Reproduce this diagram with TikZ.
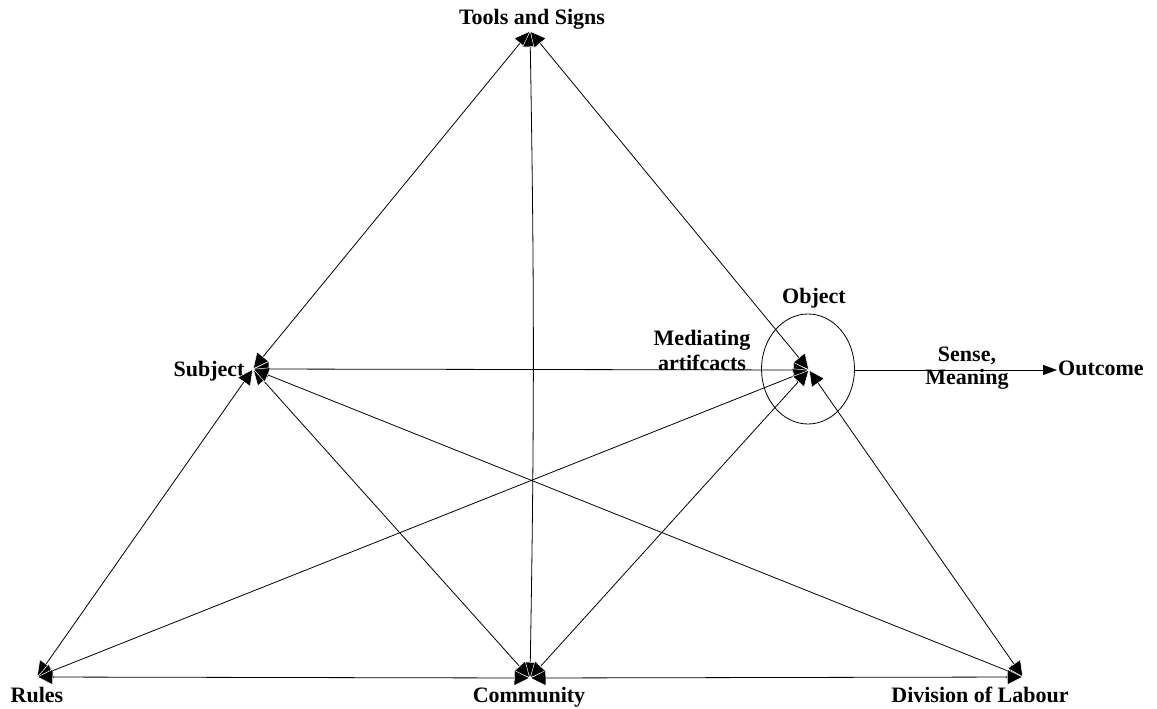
\documentclass[tikz,border=0pt]{standalone}
\usepackage{fontspec}
\setmainfont{Liberation Serif}
\usetikzlibrary{arrows.meta,shapes.geometric}
\begin{document}
\begin{tikzpicture}[x=1pt,y=-1pt,
  lbl/.style={font=\bfseries\fontsize{22}{24.5}\selectfont, inner sep=0pt, anchor=base},
  head/.tip={Triangle[length=16pt,width=16pt,color=white,fill=black,line width=0.5pt]},
  link/.style={line width=0.8pt, head-head},
  oneway/.style={line width=0.8pt, -{Triangle[length=14pt,width=10pt]}}
]
\useasboundingbox (0,0) rectangle (1157,709);

% corners of the activity system
\coordinate (T) at (530,31);
\coordinate (S) at (253,369);
\coordinate (O) at (809,370);
\coordinate (R) at (37,677);
\coordinate (C) at (530,678);
\coordinate (D) at (1023,677);

% object ring
\node[draw, ellipse, line width=0.8pt, inner sep=0pt,
      minimum width=93pt, minimum height=110pt] (obj) at (808,369) {};

% labels (multi-line labels sit on the baseline of their last line)
\node[lbl] (tools) at (532,25) {Tools and Signs};
\node[lbl] (subj) at (209,376) {Subject};
\node[lbl] (objt) at (814,303) {Object};
\node[lbl, align=center] (med) at (702,370) {Mediating\\artifcacts};
\node[lbl, align=center, font=\bfseries\fontsize{22}{23}\selectfont] (sense) at (967,384) {Sense,\\Meaning};
\node[lbl, anchor=base west] (out) at (1058,375) {Outcome};
\node[lbl] (rules) at (37,702) {Rules};
\node[lbl] (comm) at (529,702) {Community};
\node[lbl] (div) at (980,702) {Division of Labour};

% connections
\draw[link] (T) -- (S);
\draw[link] (T) to[bend left=1] (C);
\draw[link] (T) -- (O);
\draw[link] (S) -- (O);
\draw[link] (S) -- (R);
\draw[link] (S) -- (C);
\draw[link] (S) -- (D);
\draw[link] (O) -- (R);
\draw[link] (O) -- (C);
\draw[link] (O) -- (D);
\draw[link] (R) -- (C);
\draw[link] (C) -- (D);

% result of the activity
\coordinate (oe) at (obj.east |- O);
\coordinate (ow) at ([xshift=-1pt]out.west |- O);
\draw[oneway] (oe) -- (ow);
\end{tikzpicture}
\end{document}
